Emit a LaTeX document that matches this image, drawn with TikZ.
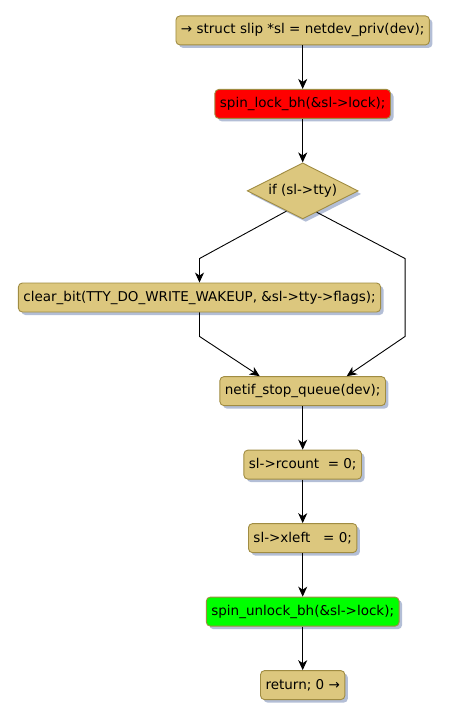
\documentclass[tikz,border=0pt]{standalone}
\usepackage{fontspec}
\setmainfont{DejaVu Sans}
\usetikzlibrary{shapes,arrows.meta,positioning,shadows,calc}

\definecolor{actfill}{HTML}{DCC77E}
\definecolor{actline}{HTML}{A08C42}
\definecolor{actshadow}{HTML}{B3BED6}

\begin{document}
\begin{tikzpicture}[
    font=\fontsize{13.5}{16}\selectfont,
    node distance=43.6pt,
    act/.style={rectangle, rounded corners=4pt, draw=actline, fill=actfill, line width=0.9pt, minimum height=29pt, inner xsep=5pt, inner ysep=0pt, drop shadow={shadow xshift=3pt, shadow yshift=-3pt, fill=actshadow, opacity=1}},
    decision/.style={diamond, aspect=2, draw=actline, fill=actfill, line width=0.9pt, minimum width=111pt, minimum height=56pt, inner sep=0pt, drop shadow={shadow xshift=3pt, shadow yshift=-3pt, fill=actshadow, opacity=1}},
    arr/.style={-{Stealth[length=10pt, width=9pt, inset=3pt]}, line width=0.9pt}
]
\useasboundingbox (0,0) rectangle (448pt,-721pt);

% Main column
\node[act] (priv) at (302.7pt,-30.4pt) {→ struct slip *sl = netdev\_priv(dev);};
\node[act, fill=red, below=of priv] (lock) {spin\_lock\_bh(\&sl->lock);};
\node[decision, below=of lock] (tty) {if (sl->tty)};
\node[act] (clear) at (199.5pt,-297.5pt) {clear\_bit(TTY\_DO\_WRITE\_WAKEUP, \&sl->tty->flags);};
\node[act, below=156.8pt of tty] (stop) {netif\_stop\_queue(dev);};
\node[act, below=of stop] (rcount) {sl->rcount\ \ = 0;};
\node[act, below=of rcount] (xleft) {sl->xleft\ \ \ = 0;};
\node[act, fill=green, below=of xleft] (unlock) {spin\_unlock\_bh(\&sl->lock);};
\node[act, below=of unlock] (ret) {return; 0 →};

\draw[arr] (priv) -- (lock);
\draw[arr] (lock) -- (tty);

% if branch and merge
\draw[arr] ($(tty.west)!0.71!(tty.south)$) -- ([yshift=24pt]clear.north) -- (clear.north);
\draw[arr] ($(tty.east)!0.75!(tty.south)$) -- ([xshift=24pt, yshift=24pt]clear.north east) -- ([xshift=24pt, yshift=-24pt]clear.south east) -- ([xshift=44pt]stop.north);
\draw[arr] (clear.south) -- ([yshift=-24pt]clear.south) -- ([xshift=-43pt]stop.north);

\draw[arr] (stop) -- (rcount);
\draw[arr] (rcount) -- (xleft);
\draw[arr] (xleft) -- (unlock);
\draw[arr] (unlock) -- (ret);

\end{tikzpicture}
\end{document}
